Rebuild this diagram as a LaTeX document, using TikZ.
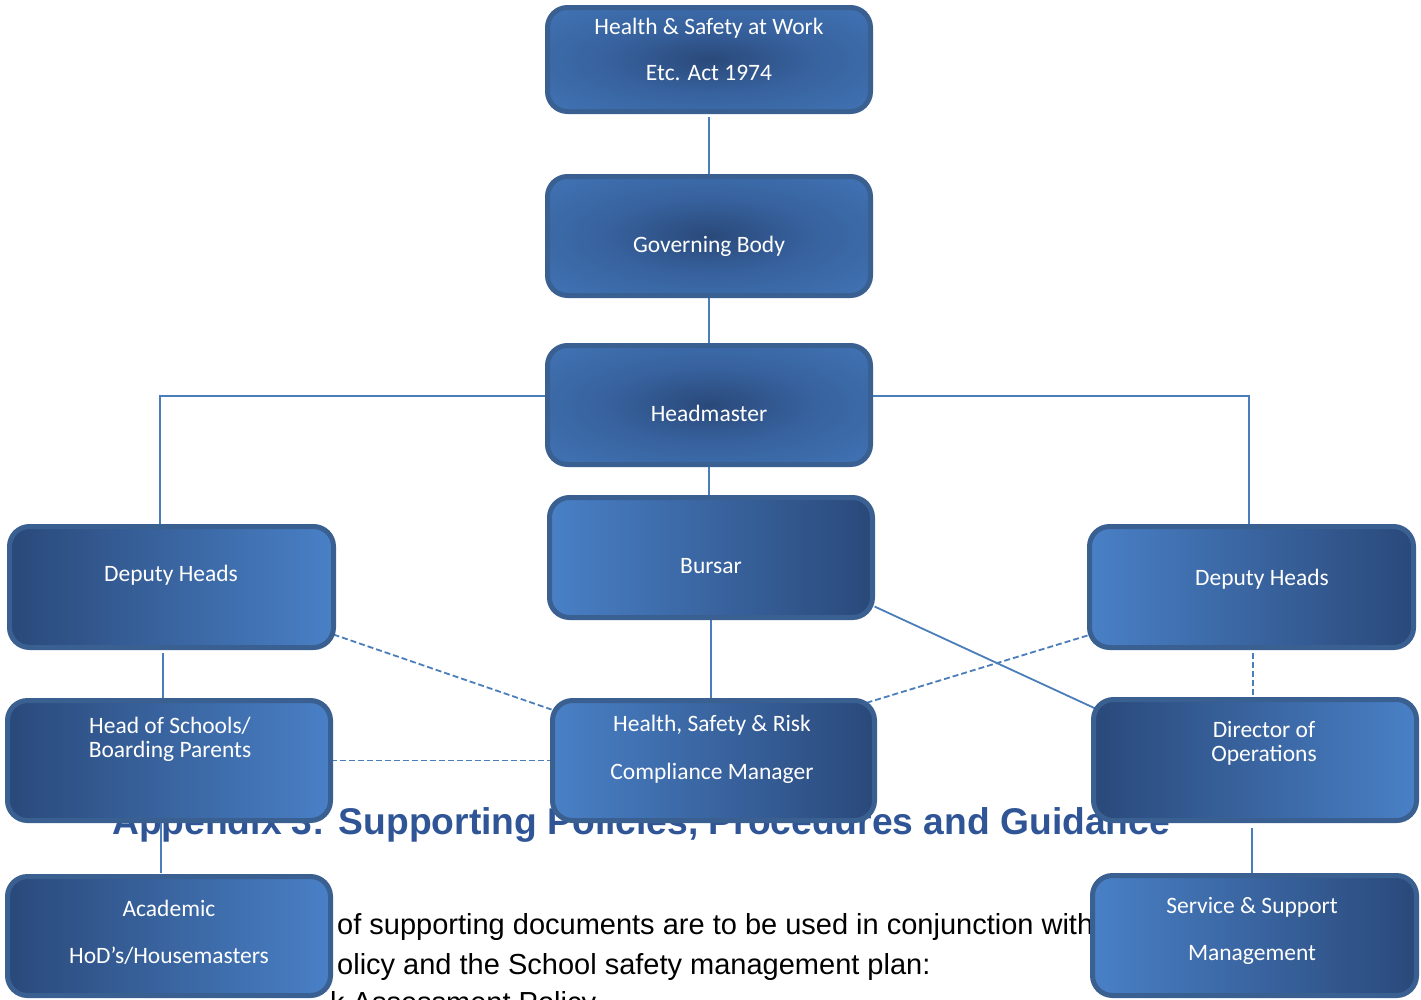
\documentclass[tikz,border=0pt]{standalone}
\usepackage{fontspec}
\newfontfamily\boxfont{Carlito}
\newfontfamily\docfont{Liberation Sans}
\definecolor{boxdark}{RGB}{42,73,122}
\definecolor{boxmid}{RGB}{55,98,158}
\definecolor{boxlight}{RGB}{73,128,198}
\definecolor{boxborder}{RGB}{58,95,145}
\definecolor{connblue}{RGB}{74,126,187}
\definecolor{headblue}{RGB}{47,85,151}
\pgfdeclareradialshading{boxradial}{\pgfpoint{0bp}{0bp}}{color(0bp)=(boxdark); color(16bp)=(boxmid); color(50bp)=(boxlight); color(70bp)=(boxlight)}
\pgfdeclarelayer{doclayer}
\pgfdeclarelayer{connlayer}
\pgfsetlayers{doclayer,connlayer,main}
\tikzset{
  box/.style={rounded corners=20pt, draw=boxborder, line width=5pt, inner sep=0pt, outer sep=0pt},
  radbox/.style={box, shading=boxradial},
  dlbox/.style={box, left color=boxdark, right color=boxlight},
  ldbox/.style={box, left color=boxlight, right color=boxdark},
  boxtext/.style={anchor=base, inner sep=0pt, text=white, font=\boxfont\fontsize{23.5}{28}\selectfont},
  conn/.style={draw=connblue, line width=1.8pt},
  dconn/.style={conn, dash pattern=on 6pt off 3pt},
  headtext/.style={anchor=base west, inner sep=0pt, text=headblue, font=\docfont\bfseries\fontsize{37.2}{44}\selectfont},
  bodytext/.style={anchor=base west, inner sep=0pt, text=black, font=\docfont\fontsize{29}{35}\selectfont}
}
\begin{document}
\begin{tikzpicture}[x=1pt,y=-1pt]
\useasboundingbox (0,0) rectangle (1421,999);
\clip (0,0) rectangle (1421,999);

% boxes
\path
  node[radbox, minimum width=323pt, minimum height=104pt] (hsw) at (709,59.5) {}
  node[radbox, minimum width=323pt, minimum height=119pt] (gov) at (709,236) {}
  node[radbox, minimum width=323pt, minimum height=119pt] (head) at (709,405) {}
  node[ldbox, minimum width=323pt, minimum height=120pt] (bursar) at (711,557.5) {}
  node[dlbox, minimum width=324pt, minimum height=121pt] (depL) at (171.5,587) {}
  node[ldbox, minimum width=324pt, minimum height=121pt] (depR) at (1251.5,587) {}
  node[dlbox, minimum width=323pt, minimum height=120pt] (hos) at (169,760.5) {}
  node[ldbox, minimum width=322pt, minimum height=120pt] (hsr) at (713.5,760.5) {}
  node[dlbox, minimum width=323pt, minimum height=121pt] (dir) at (1255,760) {}
  node[dlbox, minimum width=323pt, minimum height=119pt] (acad) at (169,936) {}
  node[ldbox, minimum width=324pt, minimum height=120pt] (svc) at (1254.5,935.5) {};

% background document text
\begin{pgfonlayer}{doclayer}
\fill[white] (0,0) rectangle (1421,999);
\node[headtext] (heading) at (112,834) {Appendix 3: Supporting Policies, Procedures and Guidance};
\node[bodytext] (body1) at (337,934) {of supporting documents are to be used in conjunction with};
\node[bodytext] (body2) at (337,974) {olicy and the School safety management plan:};
\node[bodytext] (body3) at (330,1012) {k Assessment Policy};
\end{pgfonlayer}

% connectors
\begin{pgfonlayer}{connlayer}
\draw[conn] ([yshift=-5pt]hsw.south) -- (gov.north);
\draw[conn] (gov.south) -- (head.north);
\draw[conn] (head.south) -- ([xshift=-2pt]bursar.north);
\draw[conn] ([yshift=9pt]head.west) -| ([xshift=-11.5pt]depL.north);
\draw[conn] ([yshift=9pt]head.east) -| ([xshift=-2.5pt]depR.north);
\draw[conn] ([xshift=-8.5pt,yshift=-5pt]depL.south) -- ([xshift=-6pt]hos.north);
\draw[conn] ([xshift=-8pt]hos.south) -- ([xshift=-8pt,yshift=4pt]acad.north);
\draw[conn] (bursar.south) -- ([xshift=-2.5pt]hsr.north);
\draw[conn] ([xshift=2pt,yshift=11pt]bursar.south east) -- ([xshift=4pt,yshift=-10pt]dir.north west);
\draw[conn] ([xshift=-3pt,yshift=-7pt]dir.south) -- ([xshift=-2.5pt]svc.north);
\draw[dconn] ([yshift=13pt]depL.south east) -- ([xshift=-1pt,yshift=-9pt]hsr.north west);
\draw[dconn] ([xshift=-2pt,yshift=12pt]depR.south west) -- ([xshift=-7pt,yshift=-2pt]hsr.north east);
\draw[dconn] (hos.east) -- (hsr.west);
\draw[dconn] ([xshift=1.5pt,yshift=-5pt]depR.south) -- ([xshift=-2pt]dir.north);
\end{pgfonlayer}

% box texts
\node[boxtext] (hswa) at (709,34) {Health \& Safety at Work};
\node[boxtext] (hswb) at (709,80) {Etc. Act 1974};
\node[boxtext] (govt) at (709,252) {Governing Body};
\node[boxtext] (headt) at (709,421) {Headmaster};
\node[boxtext] (bursart) at (711,573) {Bursar};
\node[boxtext] (depLt) at (171,581) {Deputy Heads};
\node[boxtext] (depRt) at (1262,585) {Deputy Heads};
\node[boxtext] (hosa) at (170,733) {Head of Schools/};
\node[boxtext] (hosb) at (170,757) {Boarding Parents};
\node[boxtext] (hsra) at (712,731) {Health, Safety \& Risk};
\node[boxtext] (hsrb) at (712,779) {Compliance Manager};
\node[boxtext] (dira) at (1264,737) {Director of};
\node[boxtext] (dirb) at (1264,761) {Operations};
\node[boxtext] (acada) at (169,916) {Academic};
\node[boxtext] (acadb) at (169,963) {HoD’s/Housemasters};
\node[boxtext] (svca) at (1252,913) {Service \& Support};
\node[boxtext] (svcb) at (1252,960) {Management};
\end{tikzpicture}
\end{document}
